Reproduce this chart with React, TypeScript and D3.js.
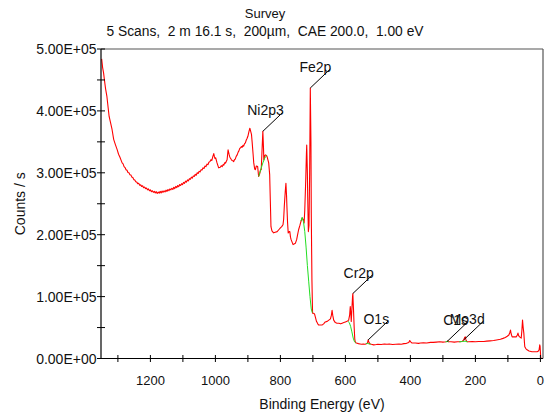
import React from "react";
import * as d3 from "d3";

const titleText = "Survey";
const subtitleText = "5 Scans,  2 m 16.1 s,  200µm,  CAE 200.0,  1.00 eV";
const xLabel = "Binding Energy (eV)";
const yLabel = "Counts / s";

const xTickValues = [0, 100, 200, 300, 400, 500, 600, 700, 800, 900, 1000, 1100, 1200, 1300];
const xTickLabels = [0, 200, 400, 600, 800, 1000, 1200];
const yTickValues = [0, 50000, 100000, 150000, 200000, 250000, 300000, 350000, 400000, 450000, 500000];
const yTickLabels = [0, 100000, 200000, 300000, 400000, 500000];

// Survey spectrum: [binding energy (eV), counts/s]
const spectrum: [number, number][] = [
  [1350, 484000], [1347, 470000], [1344, 461000], [1341, 448000], [1338, 436000], [1334, 424000],
  [1330, 405000], [1327, 391000], [1323, 382000], [1318, 370000], [1313, 354000], [1308, 346000],
  [1302, 337000], [1298, 330000], [1294, 325500], [1290, 320000], [1287, 316000], [1284, 314500],
  [1281, 310000], [1278, 308500], [1275, 305000], [1272, 304000], [1269, 300500], [1266, 300000],
  [1263, 297000], [1260, 296500], [1257, 293000], [1254, 292500], [1251, 289000], [1248, 288500],
  [1245, 285500], [1242, 285000], [1239, 282500], [1236, 283000], [1233, 280000], [1230, 280500],
  [1227, 278000], [1224, 279000], [1221, 276000], [1218, 277000], [1215, 274500], [1212, 275500],
  [1209, 272500], [1206, 274000], [1203, 271000], [1200, 272500], [1197, 269500], [1194, 271000],
  [1191, 268500], [1188, 270000], [1185, 267500], [1182, 269500], [1179, 266500], [1176, 269000],
  [1173, 267000], [1170, 270000], [1167, 267500], [1164, 270500], [1161, 268500], [1158, 271000],
  [1155, 269000], [1152, 272000], [1149, 270000], [1146, 273000], [1143, 271000], [1140, 274000],
  [1137, 272500], [1134, 275000], [1131, 273000], [1128, 276500], [1125, 274500], [1122, 278000],
  [1119, 276000], [1116, 279500], [1113, 277500], [1110, 281000], [1107, 279500], [1104, 282500],
  [1101, 281000], [1098, 284500], [1095, 283000], [1092, 286500], [1089, 285000], [1086, 288500],
  [1083, 287000], [1080, 290500], [1077, 289500], [1074, 293000], [1071, 291500], [1068, 295000],
  [1065, 294000], [1062, 297500], [1059, 296000], [1056, 300000], [1053, 299000], [1050, 302500],
  [1047, 301500], [1044, 305000], [1041, 304500], [1038, 308000], [1035, 307000], [1032, 311000],
  [1029, 310000], [1026, 314000], [1023, 313000], [1020, 317000], [1017, 318000], [1014, 321000],
  [1011, 320000], [1008, 326000], [1005, 331000], [1003, 326000], [1001, 323000], [999, 324000],
  [995, 316000], [990, 308000], [985, 309000], [982, 311500], [979, 310000], [976, 313500],
  [974, 312500], [971, 316500], [969, 315500], [966, 319000], [964, 321000], [961, 337000],
  [958, 330000], [956, 326000], [954, 324000], [951, 321500], [949, 320000], [946, 319500],
  [944, 318000], [941, 321500], [939, 322000], [936, 326500], [933, 329000], [930, 333500],
  [928, 335000], [925, 339500], [923, 340000], [920, 342500], [918, 341000], [915, 344500],
  [913, 343000], [910, 347500], [908, 348000], [905, 353000], [903, 355000], [900, 359000],
  [897, 366000], [894, 372000], [892, 368000], [889, 362000], [887, 350000], [884, 330000],
  [882, 316000], [879, 306000], [877, 305000], [874, 311000], [870, 310000], [867, 294000],
  [864, 298000], [861, 305000], [859, 305000], [857, 330000], [854, 367000], [852, 340000],
  [851, 321000], [848, 328000], [846, 329000], [843, 328000], [841, 326000], [838, 320000],
  [836, 316000], [833, 297000], [831, 255000], [829, 213000], [826, 206000], [821, 203000],
  [816, 204000], [810, 205000], [805, 208000], [800, 211000], [796, 213000], [792, 216000],
  [790, 225000], [788, 246000], [785, 270000], [783, 283000], [781, 262000], [780, 246000],
  [778, 220000], [776, 203000], [773, 205000], [771, 205000], [769, 196000], [767, 192000],
  [764, 188000], [761, 184000], [758, 185000], [754, 186000], [750, 192000], [747, 200000],
  [744, 208000], [740, 215000], [737, 221000], [733, 227000], [730, 225000], [727, 219000],
  [725, 240000], [722, 289000], [720, 330000], [719, 345000], [717, 300000], [716, 262000],
  [714, 205000], [712, 215000], [710, 300000], [708, 437000], [706, 350000], [705, 235000],
  [703, 127000], [701, 73000], [698, 73000], [695, 72000], [692, 66000], [689, 60000],
  [685, 56000], [682, 54000], [677, 54000], [672, 54000], [667, 56000], [662, 59000],
  [656, 60000], [651, 62000], [646, 64000], [643, 70000], [641, 78000], [639, 70000],
  [636, 62000], [631, 58000], [626, 57000], [620, 57000], [615, 56000], [610, 57000],
  [605, 58000], [600, 59000], [595, 60000], [590, 62000], [587, 70000], [585, 84000],
  [583, 70000], [582, 60000], [580, 80000], [578, 100000], [577, 105000], [576, 90000],
  [575, 78000], [573, 50000], [571, 30000], [569, 26000], [566, 25000], [560, 24000],
  [555, 23500], [550, 23000], [545, 23500], [540, 23000], [535, 24000], [532, 25000],
  [530, 30000], [528, 27000], [525, 24000], [520, 23000], [513, 22000], [505, 22500],
  [500, 23000], [490, 22500], [480, 23500], [472, 23000], [465, 23500], [455, 22500],
  [445, 23000], [435, 23500], [428, 23000], [420, 24000], [412, 24500], [405, 26000],
  [402, 29000], [399, 27000], [395, 25000], [385, 25000], [375, 24500], [369, 25000],
  [360, 25500], [350, 25000], [338, 26000], [330, 26000], [320, 26500], [310, 27000],
  [300, 26500], [290, 27000], [287, 27500], [285, 28500], [282, 27000], [275, 27000],
  [265, 26500], [255, 27000], [246, 27000], [240, 28000], [236, 30000], [233, 34000],
  [231, 35000], [229, 30000], [226, 27000], [220, 27000], [210, 27500], [200, 27000],
  [190, 27500], [180, 27500], [174, 27500], [165, 28000], [155, 28500], [144, 29000],
  [135, 30000], [123, 31000], [115, 32500], [108, 34000], [102, 36000], [97, 38000],
  [94, 42000], [92, 46000], [90, 40000], [87, 35000], [80, 35000], [74, 35000],
  [71, 38000], [69, 41000], [67, 37000], [64, 35000], [59, 33000], [57, 45000],
  [55, 62000], [53, 50000], [51, 41000], [49, 25000], [48, 19000], [45, 16000],
  [41, 14000], [35, 12000], [26, 11000], [18, 11000], [10, 11000], [6, 12000],
  [4, 14000], [2, 22000], [1, 20000], [-1, 2000], [-2, 0],
];

// Peak backgrounds (green)
const bgNi: [number, number][] = [[867, 294000], [860, 306000], [854, 316000], [848, 324000], [842, 328000]];
const bgFe: [number, number][] = [[737, 222000], [733, 228000], [729, 221000], [725, 205000], [721, 180000], [717, 150000], [713, 125000], [709, 100000], [705, 80000], [702, 74000]];
const bgCr: [number, number][] = [[592, 60000], [588, 58000], [584, 52000], [580, 43000], [576, 33000], [572, 27000], [568, 25000]];
const bgO: [number, number][] = [[537, 24000], [532, 24500], [527, 23500], [522, 23000]];
const bgC: [number, number][] = [[292, 27000], [287, 27500], [282, 27000]];
const bgMo: [number, number][] = [[250, 27000], [240, 27500], [232, 28000], [224, 27000]];
const backgrounds = [bgNi, bgFe, bgCr, bgO, bgC, bgMo];

// Peak labels
const peakNames = ["Ni2p3", "Fe2p", "Cr2p", "O1s", "C1s", "Mo3d"];
const peakBE = [854, 708, 577, 530, 287, 236];
const peakCounts = [367000, 437000, 105000, 30000, 27500, 30000];

const W = 545;
const H = 418;
const left = 101;
const right = 543;
const top = 49;
const bottom = 358.5;
const font = "'Liberation Sans', Arial, Helvetica, sans-serif";

function fmtExp(v: number): string {
  if (v === 0) return "0.00E+00";
  const e = Math.floor(Math.log10(v));
  const m = v / Math.pow(10, e);
  return m.toFixed(2) + "E+" + String(e).padStart(2, "0");
}

export default function App() {
  const x = d3.scaleLinear().domain([1352, -8]).range([left, right]);
  const y = d3.scaleLinear().domain([0, 500000]).range([bottom, top]);
  const line = d3
    .line<[number, number]>()
    .x((d) => x(d[0]))
    .y((d) => y(d[1]));

  return (
    <div style={{ position: "fixed", left: 0, top: 0 }}>
      <svg width={W} height={H} style={{ display: "block", background: "#fff" }} fontFamily={font}>
        <rect x={0} y={0} width={W} height={H} fill="#fff" />
        <text x={265} y={18} fontSize={13} textAnchor="middle" fill="#111">{titleText}</text>
        <text x={265} y={35.5} fontSize={13.8} textAnchor="middle" fill="#111" style={{ whiteSpace: "pre" }}>{subtitleText}</text>

        {/* frame top/right */}
        <line x1={left} x2={right} y1={top} y2={top} stroke="#555" strokeWidth={1.2} />
        <line x1={right} x2={right} y1={top} y2={bottom} stroke="#555" strokeWidth={1.2} />

        <defs>
          <clipPath id="clip">
            <rect x={left} y={top} width={right - left} height={bottom - top} />
          </clipPath>
        </defs>

        {/* spectrum */}
        <g clipPath="url(#clip)">
          <path d={line(spectrum) || ""} fill="none" stroke="#ff0000" strokeWidth={1.1} strokeLinejoin="round" />
          {backgrounds.map((bg, i) => (
            <path key={i} d={line(bg) || ""} fill="none" stroke="#22dd22" strokeWidth={1} />
          ))}
        </g>

        {/* axes */}
        <line x1={left} x2={left} y1={top} y2={bottom} stroke="#000" strokeWidth={1.2} />
        <line x1={left} x2={right} y1={bottom} y2={bottom} stroke="#000" strokeWidth={1.2} />
        {xTickValues.map((v) => (
          <line key={"xt" + v} x1={x(v)} x2={x(v)} y1={bottom - 3.5} y2={bottom + 3.5} stroke="#000" />
        ))}
        {xTickLabels.map((v) => (
          <text key={"xl" + v} x={x(v)} y={385} fontSize={13} textAnchor="middle" fill="#111">{v}</text>
        ))}
        {yTickValues.map((v) => (
          <line key={"yt" + v} x1={left - 4} x2={left + 4} y1={y(v)} y2={y(v)} stroke="#000" />
        ))}
        {yTickLabels.map((v) => (
          <text key={"yl" + v} x={left - 4.5} y={y(v) + 5} fontSize={14} textAnchor="end" fill="#111">{fmtExp(v)}</text>
        ))}

        <text x={322} y={409} fontSize={14} textAnchor="middle" fill="#111">{xLabel}</text>
        <text transform={`translate(25,${(top + bottom) / 2}) rotate(-90)`} fontSize={14} textAnchor="middle" fill="#111">{yLabel}</text>

        {/* peak annotations */}
        {peakNames.map((name, i) => {
          const px = x(peakBE[i]);
          const py = y(peakCounts[i]);
          const ex = px + 20;
          const ey = py - 19;
          return (
            <g key={name}>
              <line x1={px} y1={py} x2={ex} y2={ey} stroke="#000" strokeWidth={1} />
              <text x={ex + 1} y={ey + 3} fontSize={14} textAnchor="end" fill="#111">{name}</text>
            </g>
          );
        })}
      </svg>
    </div>
  );
}
